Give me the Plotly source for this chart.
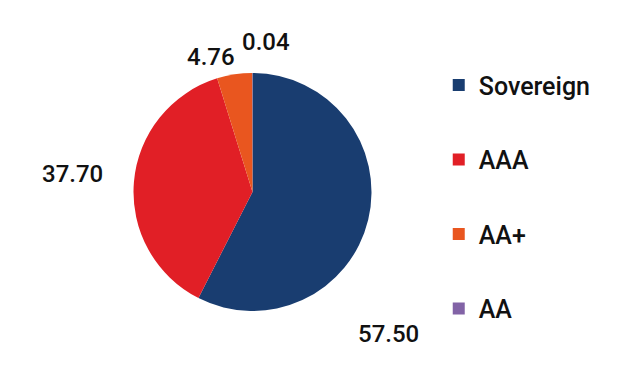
import plotly.graph_objects as go

labels = ["Sovereign", "AAA", "AA+", "AA"]
values = [57.50, 37.70, 4.76, 0.04]
colors = ["#193d70", "#e11f26", "#e9561f", "#8263a6"]

# label anchor positions (paper coords) for value labels
label_pos = [(0.615, 0.158), (0.104, 0.571), (0.328, 0.873), (0.418, 0.912)]

fig = go.Figure()
fig.add_trace(go.Pie(
    labels=labels, values=values, sort=False, direction="clockwise", rotation=0,
    marker=dict(colors=colors, line=dict(width=0)),
    textinfo="none", showlegend=False, hoverinfo="label+value",
    domain=dict(x=[125/618, 364/618], y=[1-303/387, 1-65/387]),
))
for i, (lab, col) in enumerate(zip(labels, colors)):
    fig.add_trace(go.Scatter(
        x=[None], y=[None], mode="markers", name=lab,
        marker=dict(symbol="square", size=12, color=col),
        legendgroup=f"g{i}", showlegend=True,
    ))

for v, (px, py) in zip(values, label_pos):
    fig.add_annotation(x=px, y=py, xref="paper", yref="paper", text=f"{v:.2f}",
                       showarrow=False, xanchor="center", yanchor="middle",
                       font=dict(family="Roboto", size=24, color="#111", weight=500))

fig.update_layout(
    width=618, height=387,
    margin=dict(l=0, r=0, t=0, b=0),
    paper_bgcolor="white", plot_bgcolor="white",
    font=dict(family="Roboto", size=24, color="#111"),
    xaxis=dict(visible=False), yaxis=dict(visible=False),
    legend=dict(x=0.697, y=0.86, xanchor="left", yanchor="top",
                tracegroupgap=39, font=dict(size=25, color="#111", weight=500),
                itemsizing="trace"),
)
fig.write_html("out.html")
